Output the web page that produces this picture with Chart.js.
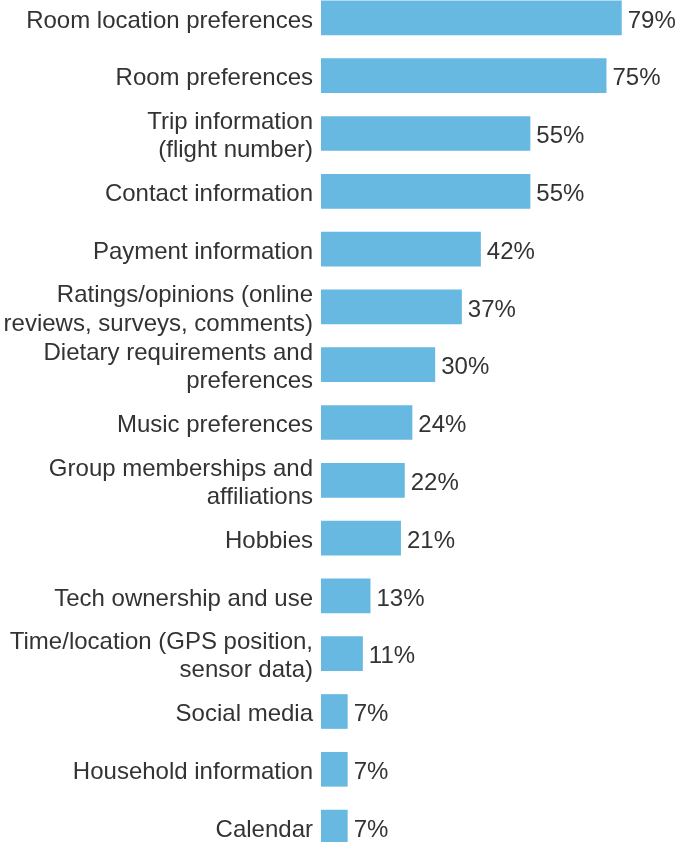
<!DOCTYPE html>
<html>
<head>
<meta charset="utf-8">
<script src="https://cdn.jsdelivr.net/npm/chart.js@4/dist/chart.umd.min.js"></script>
<style>
  html, body { margin: 0; padding: 0; background: #fff; overflow: hidden; }
  #wrap { position: absolute; left: 0; top: -11.5px; width: 675px; height: 867px; }
</style>
</head>
<body>
<div id="wrap"><canvas id="prefChart"></canvas></div>
<script>
const categories = [
    "Room location preferences",
    "Room preferences",
    ["Trip information", "(flight number)"],
    "Contact information",
    "Payment information",
    ["Ratings/opinions (online", "reviews, surveys, comments)"],
    ["Dietary requirements and", "preferences"],
    "Music preferences",
    ["Group memberships and", "affiliations"],
    "Hobbies",
    "Tech ownership and use",
    ["Time/location (GPS position,", "sensor data)"],
    "Social media",
    "Household information",
    "Calendar"
];

const shares = [79, 75, 55, 55, 42, 37, 30, 24, 22, 21, 13, 11, 7, 7, 7];

const textColor = "#333333";
const barColor = "#67b9e2";
const fontFamily = "'Liberation Sans', Arial, Helvetica, sans-serif";

// values written just after the end of each bar
const valueLabels = {
    id: "valueLabels",
    afterDatasetsDraw(chart) {
        const ctx = chart.ctx;
        const meta = chart.getDatasetMeta(0);
        ctx.save();
        ctx.font = "24px " + fontFamily;
        ctx.fillStyle = textColor;
        ctx.textAlign = "left";
        ctx.textBaseline = "middle";
        meta.data.forEach(function (bar, i) {
            ctx.fillText(shares[i] + "%", bar.x + 6, bar.y + 3);
        });
        ctx.restore();
    }
};

const chartCanvas = document.getElementById("prefChart");

new Chart(chartCanvas.getContext("2d"), {
    type: "bar",
    data: {
        labels: categories,
        datasets: [{
            data: shares,
            backgroundColor: barColor,
            borderWidth: 0,
            categoryPercentage: 1,
            barPercentage: 0.6
        }]
    },
    options: {
        indexAxis: "y",
        responsive: true,
        maintainAspectRatio: false,
        animation: false,
        layout: { padding: 0 },
        plugins: {
            legend: { display: false },
            tooltip: { enabled: false }
        },
        scales: {
            x: {
                display: false,
                min: 0,
                max: 93
            },
            y: {
                grid: { display: false, drawTicks: false },
                border: { display: false },
                ticks: {
                    color: textColor,
                    padding: 8,
                    autoSkip: false,
                    labelOffset: 3,
                    font: { family: fontFamily, size: 24, lineHeight: 1.17 }
                },
                afterFit(scale) {
                    scale.width = 321;
                    scale.paddingTop = 0;
                    scale.paddingBottom = 0;
                }
            }
        }
    },
    plugins: [valueLabels]
});
</script>
</body>
</html>
